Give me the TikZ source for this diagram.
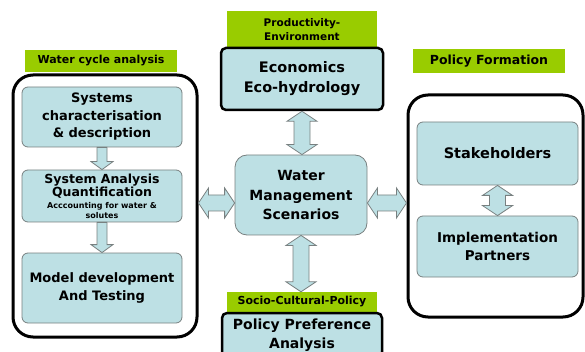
\documentclass[tikz,border=0pt]{standalone}
\usepackage{fontspec}
\setmainfont{DejaVu Sans}
\usetikzlibrary{calc,positioning}
\definecolor{boxblue}{RGB}{189,224,228}
\definecolor{taggreen}{RGB}{153,204,0}
\definecolor{boxgrey}{RGB}{120,128,128}
\newcommand{\setfs}[2]{\fontsize{#1}{#2}\selectfont}
\tikzstyle{tag} = [rectangle, fill=taggreen, text centered, align=center, inner sep=0pt]
\tikzstyle{box} = [rectangle, rounded corners=6pt, draw=boxgrey, line width=0.8pt, fill=boxblue, align=center, inner sep=0pt]
\tikzstyle{heavybox} = [box, draw=black, line width=2.5pt]
\tikzstyle{groupbox} = [rectangle, rounded corners=20pt, draw=black, line width=3pt]
\tikzstyle{blockarrow} = [draw=boxgrey, fill=boxblue, line width=0.8pt]
% block arrows between nodes
\newcommand{\blockdown}[2]{%
  \draw[blockarrow] ($(#1.south)+(-5,0)$) -- ($(#1.south |- #2.north)+(-5,-8)$) -- ($(#1.south |- #2.north)+(-11,-8)$) -- (#1.south |- #2.north) -- ($(#1.south |- #2.north)+(11,-8)$) -- ($(#1.south |- #2.north)+(5,-8)$) -- ($(#1.south)+(5,0)$) -- cycle;}
\newcommand{\blockupdown}[2]{%
  \draw[blockarrow] (#1.south) -- ($(#1.south)+(15,10)$) -- ($(#1.south)+(8,10)$) -- ($(#1.south |- #2.north)+(8,-10)$) -- ($(#1.south |- #2.north)+(15,-10)$) -- (#1.south |- #2.north) -- ($(#1.south |- #2.north)+(-15,-10)$) -- ($(#1.south |- #2.north)+(-8,-10)$) -- ($(#1.south)+(-8,10)$) -- ($(#1.south)+(-15,10)$) -- cycle;}
\newcommand{\blockleftright}[3]{%
  \draw[blockarrow] (#1.east |- #3) -- ($(#1.east |- #3)+(10,-15)$) -- ($(#1.east |- #3)+(10,-8)$) -- ($(#2.west |- #3)+(-10,-8)$) -- ($(#2.west |- #3)+(-10,-15)$) -- (#2.west |- #3) -- ($(#2.west |- #3)+(-10,15)$) -- ($(#2.west |- #3)+(-10,8)$) -- ($(#1.east |- #3)+(10,8)$) -- ($(#1.east |- #3)+(10,15)$) -- cycle;}

\begin{document}
\begin{tikzpicture}[x=1pt,y=-1pt]
    \clip (0,0) rectangle (585,352);
    % water cycle analysis
    \node (wca) [tag, minimum width=152pt, minimum height=22pt, font=\bfseries\setfs{11}{13}] at (101,61) {Water cycle analysis};
    \node (left) [groupbox, minimum width=184pt, minimum height=262pt] at (105,206) {};
    \node (sys1) [box, minimum width=160pt, minimum height=60pt, font=\bfseries\setfs{13}{17.5}] at (102,117) {Systems\\characterisation\\\& description};
    \node (sys2) [box, minimum width=160pt, minimum height=52pt, font=\bfseries\setfs{12.5}{13}] at (102,196) {System Analysis\\Quantification\\[-1pt]{\setfs{8}{10}Acccounting for water \&}\\[-3pt]{\setfs{8}{10}solutes}};
    \node (sys3) [box, minimum width=160pt, minimum height=70pt, font=\bfseries\setfs{13}{18}] at (102,288) {Model development\\And Testing};
    \blockdown{sys1}{sys2}
    \blockdown{sys2}{sys3}
    % productivity and policy preference
    \node (prod) [tag, minimum width=150pt, minimum height=38pt, font=\bfseries\setfs{10.5}{14}] at (302,30) {Productivity-\\Environment};
    \node (eco) [heavybox, rounded corners=5pt, minimum width=162pt, minimum height=62pt, font=\bfseries\setfs{14.5}{20}] at (302,79) {Economics\\Eco-hydrology};
    \node (wms) [box, rounded corners=12pt, minimum width=132pt, minimum height=80pt, font=\bfseries\setfs{14}{19.5}] at (301,195) {Water\\Management\\Scenarios};
    \node (scp) [tag, minimum width=150pt, minimum height=20pt, font=\bfseries\setfs{11}{13}] at (302,302) {Socio-Cultural-Policy};
    \node (ppa) [heavybox, rounded corners=5pt, minimum width=160pt, minimum height=44pt, font=\bfseries\setfs{14}{19}] at (302,335) {Policy Preference\\Analysis};
    \blockupdown{eco}{wms}
    \blockupdown{wms}{scp}
    % policy formation
    \node (pf) [tag, minimum width=152pt, minimum height=24pt, font=\bfseries\setfs{12.5}{14}] at (489,61) {Policy Formation};
    \node (right) [groupbox, minimum width=175pt, minimum height=222pt] at (495.5,206) {};
    \node (stake) [box, minimum width=161pt, minimum height=63pt, font=\bfseries\setfs{14.5}{18}] at (497.5,153.5) {Stakeholders};
    \node (impl) [box, minimum width=161pt, minimum height=61pt, font=\bfseries\setfs{13.5}{18}] at (497.5,246.5) {Implementation\\Partners};
    \blockupdown{stake}{impl}
    % links to the scenarios
    \coordinate (hmid) at (301,203);
    \blockleftright{left}{wms}{hmid}
    \blockleftright{wms}{right}{hmid}
\end{tikzpicture}
\end{document}
